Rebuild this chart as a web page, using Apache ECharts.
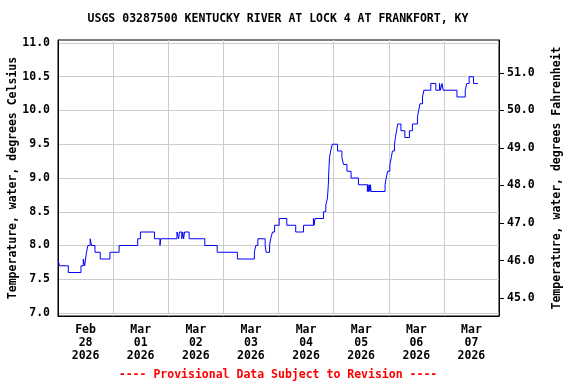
<!DOCTYPE html>
<html><head><meta charset="utf-8">
<script src="https://cdn.jsdelivr.net/npm/echarts@6/dist/echarts.min.js"></script>
<style>html,body{margin:0;padding:0;background:#fff}#c{width:576px;height:384px}</style>
</head><body><div id="c"></div>
<script>
const titleText = 'USGS 03287500 KENTUCKY RIVER AT LOCK 4 AT FRANKFORT, KY';
const provisionalText = '---- Provisional Data Subject to Revision ----';
const leftAxisName = 'Temperature, water, degrees Celsius';
const rightAxisName = 'Temperature, water, degrees Fahrenheit';
const dayLabels = ['Feb\n28\n2026','Mar\n01\n2026','Mar\n02\n2026','Mar\n03\n2026','Mar\n04\n2026','Mar\n05\n2026','Mar\n06\n2026','Mar\n07\n2026'];
const dayCenters = [12, 36, 60, 84, 108, 132, 156, 180];
const celsiusTicks = [7.0, 7.5, 8.0, 8.5, 9.0, 9.5, 10.0, 10.5, 11.0];
const fahrenheitTicks = [45, 46, 47, 48, 49, 50, 51];
// hours since 2026-02-28 00:00
const hours = [0,0.6,4.5,10.0,11.0,11.6,12.0,12.4,13.0,14.0,14.6,16.1,18.4,22.6,26.6,34.7,35.9,42.0,44.4,44.7,
  51.8,52.5,52.9,53.9,54.3,54.7,55.1,57.1,63.9,69.3,78.1,85.5,86.1,87.0,90.2,90.6,92.1,92.6,93.4,94.3,
  96.3,99.6,103.5,106.9,111.2,111.5,111.9,115.6,116.6,117.3,117.7,117.9,118.2,118.7,119.4,121.7,123.6,124.3,125.8,127.6,
  130.8,134.7,134.9,135.2,135.5,135.8,136.0,136.3,142.4,142.9,143.5,144.5,145.1,145.6,146.5,146.9,147.4,147.9,149.3,151.0,
  153.0,154.3,156.5,157.0,157.6,158.7,159.3,162.3,164.5,166.1,166.5,167.2,167.7,173.7,177.3,178.0,179.0,180.9,182.8];
const tempC = [7.8,7.7,7.6,7.7,7.8,7.7,7.8,7.9,8.0,8.1,8.0,7.9,7.8,7.9,8.0,8.1,8.2,8.1,8.0,8.1,
  8.2,8.1,8.2,8.1,8.2,8.1,8.2,8.1,8.0,7.9,7.8,7.9,8.0,8.1,8.0,7.9,8.0,8.1,8.2,8.3,
  8.4,8.3,8.2,8.3,8.4,8.3,8.4,8.5,8.6,8.7,8.9,9.1,9.3,9.4,9.5,9.4,9.3,9.2,9.1,9.0,
  8.9,8.8,8.9,8.8,8.9,8.8,8.9,8.8,8.9,9.0,9.1,9.2,9.3,9.4,9.5,9.6,9.7,9.8,9.7,9.6,
  9.7,9.8,9.9,10.0,10.1,10.2,10.3,10.4,10.3,10.4,10.3,10.4,10.3,10.2,10.3,10.4,10.5,10.4,10.4];

const cMin = 6.956, cMax = 11.044;
const toF = c => c * 1.8 + 32;
const FONT = '"DejaVu Sans Mono", monospace';
const txt = {fontFamily: FONT, fontWeight: 'bold', fontSize: 11.5, color: '#000'};

const chart = echarts.init(document.getElementById('c'), null, {renderer: 'canvas'});
chart.setOption({
  animation: false,
  backgroundColor: '#fff',
  grid: {left: 58, right: 77, top: 40, bottom: 68, containLabel: false, outerBoundsMode: 'none',
    show: true, borderColor: '#000', borderWidth: 1, backgroundColor: 'transparent'},
  graphic: [
    {type: 'text', x: 278, y: 19, style: {text: titleText, fill: '#000', font: 'bold 11.5px ' + FONT, align: 'center', verticalAlign: 'middle'}},
    {type: 'text', x: 278, y: 375, style: {text: provisionalText, fill: '#ff0000', font: 'bold 11.5px ' + FONT, align: 'center', verticalAlign: 'middle'}}
  ],
  xAxis: {
    type: 'value', min: 0, max: 192, interval: 24,
    axisLine: {show: true, lineStyle: {color: '#000', width: 1}},
    axisTick: {show: false},
    splitLine: {show: true, lineStyle: {color: '#cccccc', width: 1}},
    axisLabel: Object.assign({customValues: dayCenters, margin: 8, lineHeight: 13,
      formatter: v => dayLabels[Math.floor(v / 24)]}, txt)
  },
  yAxis: [
    {
      type: 'value', min: cMin, max: cMax, position: 'left',
      name: leftAxisName, nameLocation: 'middle', nameGap: 39, nameRotate: 90, nameMoveOverlap: false,
      nameTextStyle: txt,
      axisLine: {show: true, lineStyle: {color: '#000', width: 1}},
      axisTick: {show: false, customValues: celsiusTicks},
      axisLabel: Object.assign({customValues: celsiusTicks, margin: 8, formatter: v => v.toFixed(1)}, txt),
      splitLine: {show: true, lineStyle: {color: '#cccccc', width: 1}}
    },
    {
      type: 'value', min: toF(cMin), max: toF(cMax), position: 'right',
      name: rightAxisName, nameLocation: 'middle', nameGap: 52, nameRotate: 90, nameMoveOverlap: false,
      nameTextStyle: txt,
      axisLine: {show: true, lineStyle: {color: '#000', width: 1}},
      axisTick: {show: true, length: 5, customValues: fahrenheitTicks, lineStyle: {color: '#000'}},
      axisLabel: Object.assign({customValues: fahrenheitTicks, margin: 8, formatter: v => v.toFixed(1)}, txt),
      splitLine: {show: false}
    }
  ],
  series: [{
    type: 'line', step: 'end', showSymbol: false, symbol: 'none',
    lineStyle: {color: '#0000ff', width: 1},
    data: hours.map((h, i) => [h, tempC[i]])
  }]
});
</script></body></html>
